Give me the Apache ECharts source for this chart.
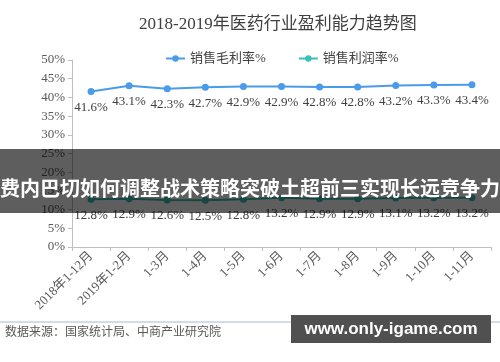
<!DOCTYPE html>
<html><head><meta charset="utf-8">
<script src="https://cdn.jsdelivr.net/npm/echarts@6/dist/echarts.min.js"></script>
<style>html,body{margin:0;padding:0;background:#fff}#c{width:500px;height:362px}</style>
</head><body><div id="c"></div>
<script>
const categories = ['2018年1-12月','2019年1-2月','1-3月','1-4月','1-5月','1-6月','1-7月','1-8月','1-9月','1-10月','1-11月'];
const grossMargin = [41.6, 43.1, 42.3, 42.7, 42.9, 42.9, 42.8, 42.8, 43.2, 43.3, 43.4];
const profitMargin = [12.8, 12.9, 12.6, 12.5, 12.8, 13.2, 12.9, 12.9, 13.1, 13.2, 13.2];
const seriesNames = ['销售毛利率%', '销售利润率%'];
const titleText = '2018-2019年医药行业盈利能力趋势图';
const overlayText = '费内巴切如何调整战术策略突破土超前三实现长远竞争力';
const sourceText = '数据来源：国家统计局、中商产业研究院';
const siteText = 'www.only-igame.com';

const serif = "'Liberation Serif','Noto Sans CJK SC',serif";
const chart = echarts.init(document.getElementById('c'));
const labelCfg = {show:true, position:'bottom', distance:6, color:'#404040', fontSize:13, fontFamily:serif, formatter: p => p.value + '%'};
chart.setOption({
  animation:false,
  title:{text:titleText, top:11, left:134, textStyle:{fontSize:17, fontWeight:'normal', color:'#404040', fontFamily:serif}},
  legend:{top:47, left:160, itemWidth:19, itemHeight:8, itemGap:32, textStyle:{fontSize:13, color:'#404040', fontFamily:serif}, data:seriesNames},
  grid:{left:72, right:9, top:60, bottom:115},
  xAxis:{type:'category', data:categories, boundaryGap:true,
    axisLine:{lineStyle:{color:'#bfbfbf'}}, axisTick:{show:true, length:4, lineStyle:{color:'#bfbfbf'}},
    axisLabel:{rotate:45, interval:0, fontSize:13, color:'#595959', fontFamily:serif, margin:7}},
  yAxis:{type:'value', min:0, max:50, interval:5,
    axisLine:{show:true, lineStyle:{color:'#bfbfbf'}}, axisTick:{show:true, length:4, lineStyle:{color:'#bfbfbf'}},
    splitLine:{show:false},
    axisLabel:{formatter:'{value}%', fontSize:13, color:'#595959', fontFamily:serif, margin:7}},
  series:[
    {name:seriesNames[0], type:'line', data:grossMargin, symbol:'circle', symbolSize:7, color:'#4a9bea', lineStyle:{width:2}, label:labelCfg},
    {name:seriesNames[1], type:'line', data:profitMargin, symbol:'circle', symbolSize:7, color:'#3cbfb8', lineStyle:{width:2}, label:labelCfg}
  ],
  graphic:[
    {type:'rect', shape:{x:0, y:149, width:500, height:64}, style:{fill:'rgba(0,0,0,0.63)'}, z:100},
    {type:'text', x:250, y:188, style:{text:overlayText, fill:'#fff', font:"bold 20px 'Noto Sans CJK SC'", textAlign:'center', textVerticalAlign:'middle'}, z:101},
    {type:'line', shape:{x1:0, y1:322, x2:500, y2:322}, style:{stroke:'#a8b8cc', lineWidth:1}, z:100},
    {type:'text', x:5, y:333, style:{text:sourceText, fill:'#595959', font:"12px "+serif, textVerticalAlign:'middle'}, z:100},
    {type:'rect', shape:{x:291, y:315, width:200, height:28}, style:{fill:'#505050'}, z:100},
    {type:'text', x:391, y:329, style:{text:siteText, fill:'#fff', font:"bold 17px 'Liberation Sans'", textAlign:'center', textVerticalAlign:'middle'}, z:101}
  ]
});
</script></body></html>
